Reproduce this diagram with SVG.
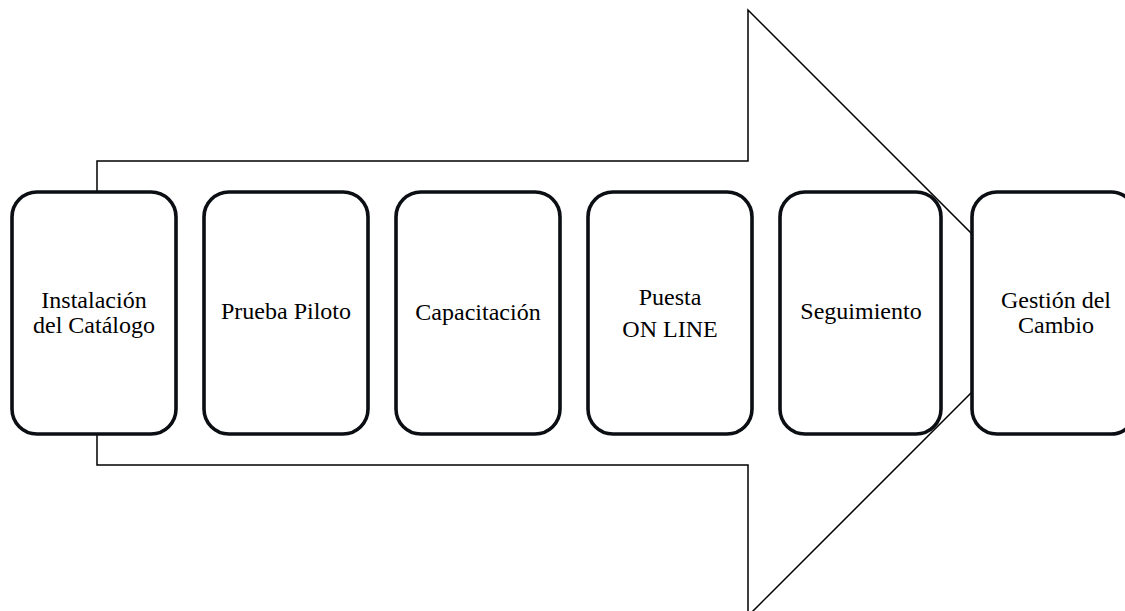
<svg xmlns="http://www.w3.org/2000/svg" width="1125" height="611" viewBox="0 0 1125 611">
<style>
.arrow{fill:none;stroke:#000;stroke-width:1.5}
.box{fill:#fff;stroke:#0b0f14;stroke-width:3.6}
.lbl{font-size:24px;fill:#000;text-anchor:middle}
</style>
<rect width="1125" height="611" fill="#fff"/>
<g id="connectors">
<path class="arrow" d="M97,192 V161 H748 V10 L1051,313 L748,616 V465 H97 V434"/>
</g>
<g font-family="Liberation Serif, Tinos, Times New Roman, DejaVu Serif, serif">
<g id="n1"><rect class="box" x="12" y="192" width="164" height="242" rx="25"/><text class="lbl" x="94" y="308">Instalación</text><text class="lbl" x="94" y="333">del Catálogo</text></g>
<g id="n2"><rect class="box" x="204" y="192" width="164" height="242" rx="25"/><text class="lbl" x="286" y="319">Prueba Piloto</text></g>
<g id="n3"><rect class="box" x="396" y="192" width="164" height="242" rx="25"/><text class="lbl" x="478" y="320">Capacitación</text></g>
<g id="n4"><rect class="box" x="588" y="192" width="164" height="242" rx="25"/><text class="lbl" x="670" y="305">Puesta</text><text class="lbl" x="670" y="337">ON LINE</text></g>
<g id="n5"><rect class="box" x="780" y="192" width="161" height="242" rx="25"/><text class="lbl" x="861" y="319">Seguimiento</text></g>
<g id="n6"><rect class="box" x="972" y="192" width="164" height="242" rx="25"/><text class="lbl" x="1056" y="308">Gestión del</text><text class="lbl" x="1056" y="333">Cambio</text></g>
</g>
</svg>
